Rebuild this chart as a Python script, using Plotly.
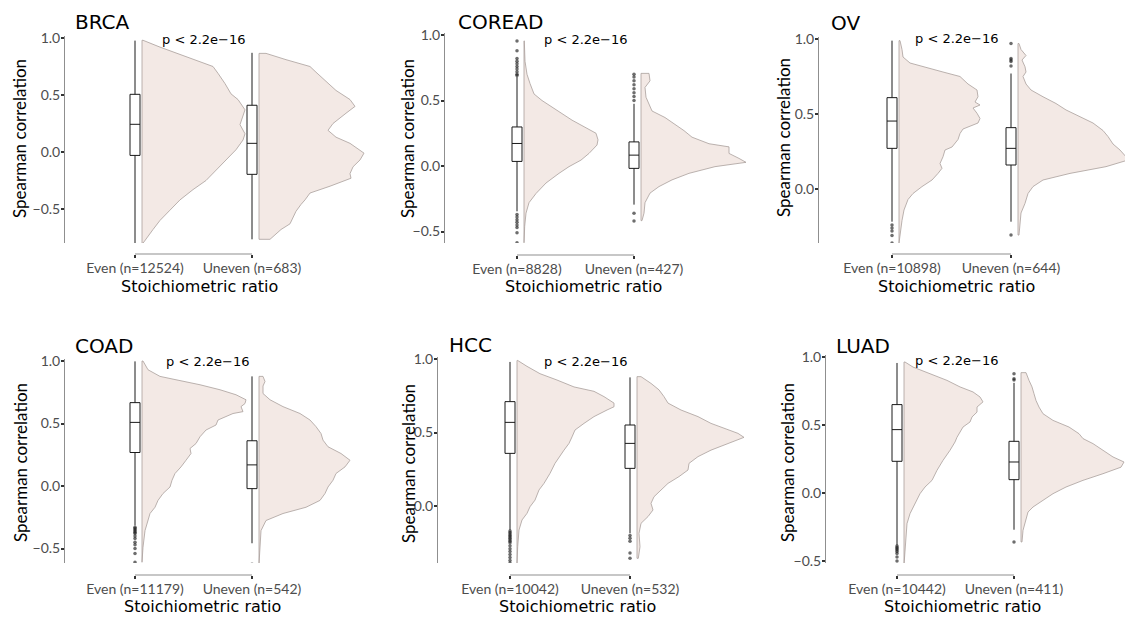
import plotly.graph_objects as go

W, H = 1125, 620

# ---------------- data ----------------
PANELS = ["BRCA", "COREAD", "OV", "COAD", "HCC", "LUAD"]
N_EVEN = [12524, 8828, 10898, 11179, 10042, 10442]
N_UNEVEN = [683, 427, 644, 542, 532, 411]
P_LABEL = "p < 2.2e\u221216"
X_TITLE = "Stoichiometric ratio"
Y_TITLE = "Spearman correlation"
Y_TICKS = [-0.5, 0.0, 0.5, 1.0]

# density profiles (relative violin width) : y values and density
BRCA_EVEN_Y = [0.98, 0.92, 0.87, 0.81, 0.75, 0.69, 0.60, 0.51, 0.46, 0.37, 0.28, 0.24, 0.16, 0.105, 0.02, -0.07, -0.16, -0.25, -0.33, -0.42, -0.51, -0.60, -0.68, -0.77, -0.80]
BRCA_EVEN_D = [0.01, 0.18, 0.34, 0.54, 0.71, 0.76, 0.83, 0.89, 0.96, 1.03, 0.99, 0.98, 1.03, 1.01, 0.94, 0.84, 0.74, 0.64, 0.51, 0.38, 0.28, 0.18, 0.11, 0.03, 0.01]
BRCA_UNEVEN_Y = [0.865, 0.81, 0.75, 0.70, 0.63, 0.54, 0.46, 0.40, 0.34, 0.25, 0.19, 0.13, 0.076, -0.01, -0.07, -0.13, -0.19, -0.23, -0.30, -0.36, -0.42, -0.46, -0.52, -0.57, -0.63, -0.68, -0.766]
BRCA_UNEVEN_D = [0.07, 0.27, 0.51, 0.57, 0.66, 0.77, 0.91, 0.96, 0.87, 0.74, 0.69, 0.77, 0.91, 1.05, 1.01, 0.94, 0.91, 0.92, 0.71, 0.51, 0.46, 0.42, 0.37, 0.34, 0.31, 0.22, 0.11]

COREAD_EVEN_Y = [0.955, 0.80, 0.70, 0.63, 0.55, 0.50, 0.45, 0.40, 0.35, 0.30, 0.25, 0.20, 0.16, 0.096, 0.045, -0.005, -0.056, -0.13, -0.21, -0.28, -0.36, -0.46, -0.586]
COREAD_EVEN_D = [0.003, 0.01, 0.03, 0.06, 0.10, 0.18, 0.28, 0.38, 0.48, 0.60, 0.72, 0.74, 0.73, 0.65, 0.57, 0.45, 0.35, 0.22, 0.12, 0.05, 0.02, 0.007, 0.003]
COREAD_UNEVEN_Y = [0.707, 0.65, 0.60, 0.525, 0.475, 0.42, 0.37, 0.32, 0.27, 0.22, 0.17, 0.146, 0.096, 0.058, 0.028, -0.005, -0.056, -0.106, -0.157, -0.207, -0.28, -0.36, -0.417]
COREAD_UNEVEN_D = [0.08, 0.09, 0.04, 0.05, 0.08, 0.11, 0.24, 0.34, 0.43, 0.51, 0.68, 0.88, 0.88, 0.98, 1.05, 0.74, 0.48, 0.31, 0.18, 0.09, 0.04, 0.03, 0.01]

OV_EVEN_Y = [0.989, 0.93, 0.88, 0.84, 0.815, 0.78, 0.75, 0.70, 0.66, 0.615, 0.58, 0.56, 0.54, 0.505, 0.47, 0.44, 0.40, 0.37, 0.33, 0.28, 0.26, 0.215, 0.17, 0.138, 0.104, 0.06, 0.016, -0.03, -0.07, -0.14, -0.21, -0.30, -0.36]
OV_EVEN_D = [0.01, 0.03, 0.04, 0.11, 0.24, 0.44, 0.61, 0.69, 0.78, 0.79, 0.76, 0.81, 0.74, 0.78, 0.81, 0.79, 0.64, 0.61, 0.59, 0.53, 0.46, 0.44, 0.41, 0.43, 0.39, 0.33, 0.23, 0.14, 0.09, 0.05, 0.03, 0.01, 0.003]
OV_UNEVEN_Y = [0.97, 0.93, 0.89, 0.86, 0.815, 0.78, 0.75, 0.70, 0.66, 0.615, 0.57, 0.527, 0.48, 0.44, 0.39, 0.35, 0.30, 0.26, 0.215, 0.193, 0.149, 0.104, 0.06, 0.016, -0.03, -0.096, -0.16, -0.25, -0.307]
OV_UNEVEN_D = [0.01, 0.03, 0.08, 0.04, 0.07, 0.08, 0.05, 0.08, 0.13, 0.25, 0.38, 0.48, 0.62, 0.75, 0.85, 0.90, 0.95, 1.02, 1.08, 1.10, 0.88, 0.52, 0.25, 0.15, 0.10, 0.07, 0.03, 0.02, 0.01]

COAD_EVEN_Y = [1.0, 0.93, 0.877, 0.85, 0.81, 0.77, 0.73, 0.69, 0.66, 0.635, 0.595, 0.58, 0.555, 0.528, 0.488, 0.448, 0.394, 0.34, 0.30, 0.26, 0.206, 0.153, 0.10, 0.046, -0.008, -0.06, -0.115, -0.17, -0.22, -0.276, -0.357, -0.49, -0.61]
COAD_EVEN_D = [0.01, 0.06, 0.18, 0.34, 0.58, 0.78, 0.94, 1.04, 1.03, 0.99, 1.01, 0.91, 0.84, 0.76, 0.74, 0.64, 0.58, 0.54, 0.48, 0.49, 0.44, 0.39, 0.33, 0.30, 0.28, 0.21, 0.16, 0.13, 0.08, 0.06, 0.03, 0.01, 0.003]
COAD_UNEVEN_Y = [0.877, 0.836, 0.80, 0.74, 0.69, 0.635, 0.58, 0.528, 0.475, 0.42, 0.367, 0.314, 0.26, 0.206, 0.153, 0.10, 0.046, -0.008, -0.06, -0.115, -0.17, -0.22, -0.276, -0.357, -0.49, -0.625]
COAD_UNEVEN_D = [0.04, 0.06, 0.04, 0.04, 0.11, 0.24, 0.41, 0.51, 0.57, 0.62, 0.64, 0.69, 0.82, 0.91, 0.86, 0.77, 0.74, 0.69, 0.66, 0.61, 0.47, 0.24, 0.07, 0.02, 0.013, 0.007]

HCC_EVEN_Y = [0.99, 0.95, 0.90, 0.857, 0.81, 0.78, 0.744, 0.70, 0.675, 0.653, 0.608, 0.562, 0.517, 0.47, 0.426, 0.38, 0.336, 0.29, 0.222, 0.154, 0.109, 0.04, -0.005, -0.05, -0.095, -0.163, -0.277, -0.39]
HCC_EVEN_D = [0.007, 0.10, 0.23, 0.40, 0.57, 0.77, 0.87, 0.97, 0.97, 0.90, 0.77, 0.67, 0.58, 0.55, 0.52, 0.47, 0.43, 0.38, 0.33, 0.27, 0.22, 0.18, 0.13, 0.10, 0.05, 0.02, 0.007, 0.003]
HCC_UNEVEN_Y = [0.88, 0.834, 0.79, 0.744, 0.70, 0.653, 0.608, 0.562, 0.528, 0.494, 0.467, 0.426, 0.38, 0.336, 0.29, 0.245, 0.20, 0.154, 0.109, 0.063, 0.018, -0.027, -0.072, -0.118, -0.186, -0.277, -0.356]
HCC_UNEVEN_D = [0.04, 0.14, 0.22, 0.27, 0.31, 0.44, 0.61, 0.74, 0.87, 1.01, 1.07, 0.91, 0.74, 0.61, 0.52, 0.51, 0.42, 0.31, 0.24, 0.17, 0.14, 0.16, 0.11, 0.04, 0.02, 0.03, 0.013]

LUAD_EVEN_Y = [0.963, 0.926, 0.877, 0.828, 0.78, 0.743, 0.706, 0.67, 0.632, 0.595, 0.559, 0.522, 0.485, 0.449, 0.41, 0.375, 0.314, 0.24, 0.167, 0.093, 0.044, -0.005, -0.078, -0.152, -0.225, -0.32, -0.446, -0.53]
LUAD_EVEN_D = [0.01, 0.09, 0.26, 0.43, 0.56, 0.69, 0.76, 0.79, 0.73, 0.73, 0.68, 0.66, 0.59, 0.56, 0.53, 0.51, 0.46, 0.39, 0.33, 0.28, 0.21, 0.16, 0.11, 0.06, 0.03, 0.02, 0.01, 0.003]
LUAD_UNEVEN_Y = [0.885, 0.828, 0.78, 0.73, 0.68, 0.632, 0.583, 0.534, 0.485, 0.436, 0.40, 0.363, 0.314, 0.265, 0.228, 0.19, 0.142, 0.093, 0.044, -0.005, -0.054, -0.103, -0.14, -0.20, -0.275, -0.36]
LUAD_UNEVEN_D = [0.05, 0.08, 0.11, 0.13, 0.15, 0.18, 0.22, 0.32, 0.48, 0.58, 0.62, 0.72, 0.82, 0.92, 1.03, 1.00, 0.82, 0.62, 0.45, 0.32, 0.22, 0.12, 0.07, 0.05, 0.02, 0.01]

# box statistics: [q1, median, q3, lower whisker, upper whisker]
BOX_EVEN = [
    [-0.03, 0.243, 0.506, -0.80, 0.977],
    [0.035, 0.172, 0.298, -0.346, 0.68],
    [0.271, 0.453, 0.609, -0.218, 0.989],
    [0.268, 0.509, 0.667, -0.316, 0.997],
    [0.358, 0.569, 0.71, -0.163, 0.98],
    [0.233, 0.466, 0.65, -0.385, 0.956],
]
BOX_UNEVEN = [
    [-0.196, 0.076, 0.41, -0.766, 0.87],
    [-0.018, 0.083, 0.184, -0.295, 0.475],
    [0.16, 0.271, 0.409, -0.218, 0.77],
    [-0.021, 0.169, 0.362, -0.458, 0.877],
    [0.256, 0.426, 0.551, -0.186, 0.875],
    [0.098, 0.228, 0.38, -0.27, 0.81],
]

# outliers
OUT_EVEN = [
    [],
    [0.955, 0.88, 0.82, 0.80, 0.78, 0.76, 0.74, 0.72, 0.70, 0.69, -0.37, -0.39, -0.41, -0.43, -0.45, -0.47, -0.51, -0.585],
    [-0.24, -0.26, -0.28, -0.31, -0.36],
    [-0.33, -0.34, -0.35, -0.36, -0.37, -0.38, -0.40, -0.42, -0.45, -0.47, -0.50, -0.54, -0.61],
    [-0.17, -0.18, -0.19, -0.20, -0.21, -0.22, -0.23, -0.24, -0.25, -0.27, -0.29, -0.31, -0.33, -0.35, -0.37, -0.39],
    [-0.39, -0.40, -0.41, -0.42, -0.43, -0.445, -0.47, -0.50, -0.53],
]
OUT_UNEVEN = [
    [],
    [0.50, 0.53, 0.56, 0.59, 0.62, 0.65, 0.68, 0.70, -0.36, -0.42],
    [0.97, 0.87, 0.86, 0.85, 0.82, -0.307],
    [-0.625],
    [-0.20, -0.22, -0.24, -0.32, -0.355],
    [0.877, 0.84, 0.83, -0.36],
]

DENS = {
    "BRCA": (BRCA_EVEN_Y, BRCA_EVEN_D, BRCA_UNEVEN_Y, BRCA_UNEVEN_D),
    "COREAD": (COREAD_EVEN_Y, COREAD_EVEN_D, COREAD_UNEVEN_Y, COREAD_UNEVEN_D),
    "OV": (OV_EVEN_Y, OV_EVEN_D, OV_UNEVEN_Y, OV_UNEVEN_D),
    "COAD": (COAD_EVEN_Y, COAD_EVEN_D, COAD_UNEVEN_Y, COAD_UNEVEN_D),
    "HCC": (HCC_EVEN_Y, HCC_EVEN_D, HCC_UNEVEN_Y, HCC_UNEVEN_D),
    "LUAD": (LUAD_EVEN_Y, LUAD_EVEN_D, LUAD_UNEVEN_Y, LUAD_UNEVEN_D),
}

# ---------------- layout geometry (pixels) ----------------
GEOM = [
    dict(L=65, E=135, U=252, R=369, P1=38, P0=152, T=36, B=243, XA=254,
         title=(73, 22), p=(204, 40), xt=(199, 286), yt=(20, 139)),
    dict(L=445, E=517, U=634, R=750, P1=35, P0=166, T=33, B=243, XA=255,
         title=(456, 22), p=(586, 40), xt=(583, 286), yt=(408, 139)),
    dict(L=819, E=892, U=1011, R=1125, P1=39, P0=189, T=37, B=243, XA=254,
         title=(829, 23), p=(957, 39), xt=(956, 286), yt=(783, 138)),
    dict(L=65, E=135, U=252, R=369, P1=361, P0=486, T=359, B=563, XA=575,
         title=(73, 346), p=(208, 361), xt=(202, 606), yt=(20, 463)),
    dict(L=438, E=510, U=630, R=750, P1=359, P0=506, T=357, B=563, XA=575,
         title=(447, 345), p=(586, 361), xt=(577, 606), yt=(408, 464)),
    dict(L=826, E=897, U=1014, R=1125, P1=357, P0=493, T=355, B=563, XA=575,
         title=(834, 346), p=(957, 360), xt=(962, 606), yt=(787, 463)),
]

VIOLIN_FILL = "#F3E9E5"
VIOLIN_LINE = "#A9A09C"
AXIS_GRAY = "#8F8F8F"
TICK_DARK = "#333333"
LABEL_GRAY = "#4D4D4D"
VIOLIN_OFFSET_PX = 7
BOX_WIDTH_PX = 10
DENS_PX = 100  # px for density 1.0

def px2x(px):
    return px / W

def px2y(py):
    return 1 - py / H

fig = go.Figure()
annotations = []
shapes = []

for i, name in enumerate(PANELS):
    g = GEOM[i]
    k = i + 1
    xa = "x" if k == 1 else f"x{k}"
    ya = "y" if k == 1 else f"y{k}"
    u = g["U"] - g["E"]
    kpx = g["P0"] - g["P1"]
    off = VIOLIN_OFFSET_PX / u
    scale = DENS_PX / u
    ey, ed, uy, ud = DENS[name]

    for pos, ys, ds in [(1, ey, ed), (2, uy, ud)]:
        base = pos + off
        xs = [base] + [base + d * scale for d in ds] + [base, base]
        yy = [ys[0]] + list(ys) + [ys[-1], ys[0]]
        fig.add_trace(go.Scatter(
            x=xs, y=yy, mode="lines", fill="toself", fillcolor=VIOLIN_FILL,
            line=dict(color=VIOLIN_LINE, width=0.8), xaxis=xa, yaxis=ya,
            hoverinfo="skip", showlegend=False))

    for pos, st, outs in [(1, BOX_EVEN[i], OUT_EVEN[i]), (2, BOX_UNEVEN[i], OUT_UNEVEN[i])]:
        q1, med, q3, lo, hi = st
        fig.add_trace(go.Box(
            x=[pos], q1=[q1], median=[med], q3=[q3], lowerfence=[lo], upperfence=[hi],
            width=BOX_WIDTH_PX / u, whiskerwidth=0, fillcolor="white",
            line=dict(color="#1a1a1a", width=1), boxpoints=False,
            xaxis=xa, yaxis=ya, showlegend=False, hoverinfo="skip"))
        if outs:
            fig.add_trace(go.Scatter(
                x=[pos] * len(outs), y=outs, mode="markers",
                marker=dict(size=3.5, color="rgba(30,30,30,0.65)"),
                xaxis=xa, yaxis=ya, showlegend=False, hoverinfo="skip"))

    xr = [1 - (g["E"] - g["L"]) / u, 1 + (g["R"] - g["E"]) / u]
    yr = [(g["P0"] - g["B"]) / kpx, (g["P0"] - g["T"]) / kpx]

    fig.update_layout({
        ("xaxis" if k == 1 else f"xaxis{k}"): dict(
            domain=[px2x(g["L"]), px2x(g["R"])], range=xr, anchor="free",
            position=px2y(g["XA"]), tickvals=[1, 2],
            ticktext=[f"Even (n={N_EVEN[i]})", f"Uneven (n={N_UNEVEN[i]})"],
            ticks="outside", ticklen=3, tickwidth=2, tickcolor=TICK_DARK,
            ticklabelstandoff=-2,
            showline=False, showgrid=False, zeroline=False, automargin=False,
            tickfont=dict(family="Lato", size=14, color=LABEL_GRAY)),
        ("yaxis" if k == 1 else f"yaxis{k}"): dict(
            domain=[px2y(g["B"]), px2y(g["T"])], range=yr, anchor=xa,
            tickvals=Y_TICKS, tickformat=".1f",
            ticks="outside", ticklen=3, tickwidth=2, tickcolor=TICK_DARK,
            ticklabelstandoff=-2,
            showline=True, linecolor=AXIS_GRAY, linewidth=1,
            showgrid=False, zeroline=False, automargin=False,
            tickfont=dict(family="Lato", size=14, color=LABEL_GRAY)),
    })

    shapes.append(dict(type="line", xref=xa, yref="paper", x0=1, x1=2,
                       y0=px2y(g["XA"]), y1=px2y(g["XA"]),
                       line=dict(color=AXIS_GRAY, width=1)))

    annotations.append(dict(text=name, x=px2x(g["title"][0]), y=px2y(g["title"][1]),
                            xref="paper", yref="paper", xanchor="left", yanchor="middle",
                            showarrow=False, font=dict(family="DejaVu Sans", size=20, color="black")))
    annotations.append(dict(text=P_LABEL, x=px2x(g["p"][0]), y=px2y(g["p"][1]),
                            xref="paper", yref="paper", xanchor="center", yanchor="middle",
                            showarrow=False, font=dict(family="DejaVu Sans", size=13, color="black")))
    annotations.append(dict(text=X_TITLE, x=px2x(g["xt"][0]), y=px2y(g["xt"][1]),
                            xref="paper", yref="paper", xanchor="center", yanchor="middle",
                            showarrow=False, font=dict(family="DejaVu Sans", size=16, color="black")))
    annotations.append(dict(text=Y_TITLE, x=px2x(g["yt"][0]), y=px2y(g["yt"][1]),
                            xref="paper", yref="paper", xanchor="center", yanchor="middle",
                            textangle=-90, showarrow=False,
                            font=dict(family="Lato", size=17, color="black")))

fig.update_layout(
    width=W, height=H, margin=dict(l=0, r=0, t=0, b=0, autoexpand=False),
    paper_bgcolor="white", plot_bgcolor="white",
    annotations=annotations, shapes=shapes, showlegend=False,
)

fig.write_html("out.html")
